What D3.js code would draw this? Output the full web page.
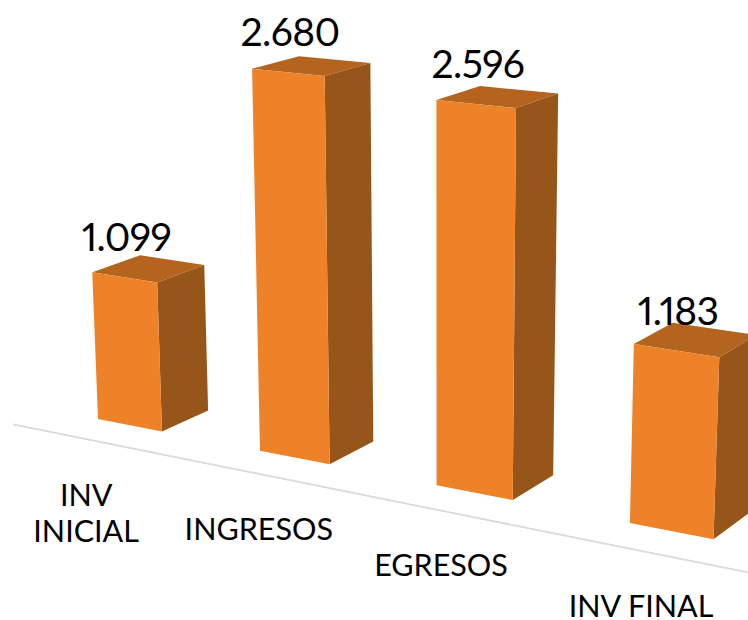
<!DOCTYPE html>
<html lang="en">
  <head>
    <meta charset="UTF-8" />
    <title>Inventario</title>
    <script src="https://d3js.org/d3.v7.min.js"></script>
    <style>
      body {
        margin: 0;
        background: #fff;
      }
      svg {
        display: block;
      }
      text {
        font-family: Lato, sans-serif;
        fill: #000;
      }
      .value {
        font-size: 39px;
        letter-spacing: -0.6px;
        text-anchor: middle;
        font-variant-numeric: proportional-nums;
      }
      .category {
        font-size: 30.5px;
        text-anchor: middle;
      }
    </style>
  </head>
  <body>
    <svg width="748" height="620"></svg>
    <script>
      const categories = ["INV INICIAL", "INGRESOS", "EGRESOS", "INV FINAL"];
      const values = [1099, 2680, 2596, 1183];

      const BAR_WIDTH = 0.405;
      const BAR_DEPTH = 1;
      const AXIS_DEPTH = -0.72;
      const LABEL_DEPTH = -0.77;

      const svg = d3.select("svg");

      const U = d3.scalePoint().domain(categories).range([0, 3]);
      const V = d3.scaleLinear().domain([0, 3000]).range([0, 3]);

      // perspective camera, fitted by eye to the slanted floor of the chart
      function project(u, v, w) {
        const d = 1 - 0.04144 * u - 0.015 * v + 0.026 * w;
        return [
          (98 + 151.2 * u - 6.6 * v + 50.8 * w) / d,
          (419 + 13 * u - 137.6 * v - 10 * w) / d,
        ];
      }

      const fmt = d3.formatLocale({
        decimal: ",",
        thousands: ".",
        grouping: [3],
        currency: ["", ""],
      }).format(",");

      const face = (pts) => d3.line()(pts.map((p) => project(p[0], p[1], p[2]))) + "Z";

      // floor line
      const axisStart = project(-0.32, 0, AXIS_DEPTH);
      const axisEnd = project(3.72, 0, AXIS_DEPTH);
      svg
        .append("line")
        .attr("x1", axisStart[0])
        .attr("y1", axisStart[1])
        .attr("x2", axisEnd[0])
        .attr("y2", axisEnd[1])
        .attr("stroke", "#d9d9d9")
        .attr("stroke-width", 1.75);

      const data = categories.map((name, i) => ({ name: name, value: values[i] }));

      const bars = svg.selectAll(".bar").data(data).enter().append("g").attr("class", "bar");

      // top
      bars
        .append("path")
        .attr("fill", "#b4641e")
        .attr("d", (d) => {
          const u = U(d.name);
          const v = V(d.value);
          return face([
            [u, v, 0],
            [u + BAR_WIDTH, v, 0],
            [u + BAR_WIDTH, v, BAR_DEPTH],
            [u, v, BAR_DEPTH],
          ]);
        });

      // side
      bars
        .append("path")
        .attr("fill", "#975619")
        .attr("d", (d) => {
          const u = U(d.name) + BAR_WIDTH;
          const v = V(d.value);
          return face([
            [u, 0, 0],
            [u, v, 0],
            [u, v, BAR_DEPTH],
            [u, 0, BAR_DEPTH],
          ]);
        });

      // front
      bars
        .append("path")
        .attr("fill", "#ed8229")
        .attr("d", (d) => {
          const u = U(d.name);
          const v = V(d.value);
          return face([
            [u, 0, 0],
            [u, v, 0],
            [u + BAR_WIDTH, v, 0],
            [u + BAR_WIDTH, 0, 0],
          ]);
        });

      svg
        .selectAll(".value")
        .data(data)
        .enter()
        .append("text")
        .attr("class", "value")
        .attr("x", (d) => project(U(d.name) + BAR_WIDTH / 2, V(d.value), 0)[0] + 2)
        .attr("y", (d) => project(U(d.name) + BAR_WIDTH / 2, V(d.value), 0)[1] - 26)
        .text((d) => fmt(d.value));

      // first category wraps on two lines
      const wrapped = (d) => d.name === "INV INICIAL";
      const catText = svg
        .selectAll(".category")
        .data(data)
        .enter()
        .append("text")
        .attr("class", "category")
        .attr("transform", (d) => {
          const p = project(U(d.name) + BAR_WIDTH / 2, 0, LABEL_DEPTH);
          return `translate(${p[0] - (wrapped(d) ? 6 : 0)}, ${p[1] + 64})`;
        });

      catText
        .selectAll("tspan")
        .data((d) => (wrapped(d) ? d.name.split(" ") : [d.name]))
        .enter()
        .append("tspan")
        .attr("x", 0)
        .attr("dy", (d, i) => (i ? 36 : 0))
        .text((d) => d);
    </script>
  </body>
</html>
